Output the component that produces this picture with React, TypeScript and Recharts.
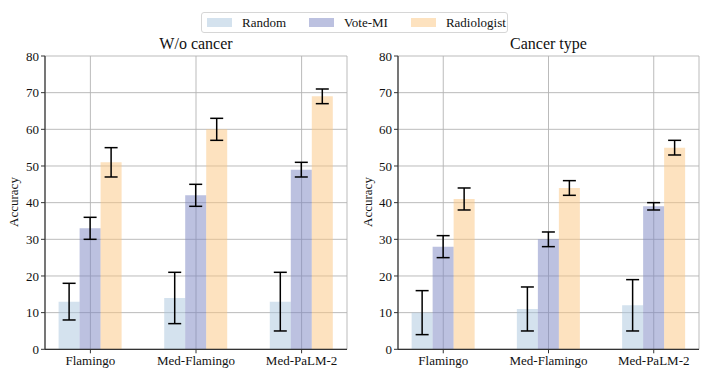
import React from 'react';
import { BarChart, Bar, XAxis, YAxis, CartesianGrid, ErrorBar } from 'recharts';

const categories = ['Flamingo', 'Med-Flamingo', 'Med-PaLM-2'];
const seriesNames = ['Random', 'Vote-MI', 'Radiologist'];
const seriesColors = ['#a9c5dd', '#7983c1', '#fbc57f'];
const yTicks = [0, 10, 20, 30, 40, 50, 60, 70, 80];

// W/o cancer
const woRandom = [13, 14, 13];
const woRandomErr = [5, 7, 8];
const woVote = [33, 42, 49];
const woVoteErr = [3, 3, 2];
const woRadio = [51, 60, 69];
const woRadioErr = [4, 3, 2];

// Cancer type
const ctRandom = [10, 11, 12];
const ctRandomErr = [6, 6, 7];
const ctVote = [28, 30, 39];
const ctVoteErr = [3, 2, 1];
const ctRadio = [41, 44, 55];
const ctRadioErr = [3, 2, 2];

const buildRows = (vals: number[][], errs: number[][]) =>
  categories.map((c, i) => {
    const row: any = { idx: i, name: c };
    seriesNames.forEach((s, k) => {
      row['s' + k] = vals[k][i];
      row['e' + k] = errs[k][i];
    });
    return row;
  });

const woData = buildRows([woRandom, woVote, woRadio], [woRandomErr, woVoteErr, woRadioErr]);
const ctData = buildRows([ctRandom, ctVote, ctRadio], [ctRandomErr, ctVoteErr, ctRadioErr]);
const xTicks = categories.map((_, i) => i);

const FONT = 'Liberation Serif, serif';
const SPINE = '#333';

function Panel({ data, title, left, yw }: { data: any[]; title: string; left: number; yw: number }) {
  const W = 351;
  const H = 372;
  const top = 56;
  const rightM = left === 0 ? 4 : 3;
  const plotW = W - yw - rightM;
  return (
    <div style={{ position: 'absolute', left, top: 0, width: W, height: H }}>
      <div
        style={{
          position: 'absolute',
          left: yw,
          width: plotW,
          top: 35,
          textAlign: 'center',
          fontSize: 16,
          color: '#111',
          lineHeight: '18px',
        }}
      >
        {title}
      </div>
      <div
        style={{
          position: 'absolute',
          left: left === 0 ? 14 : 17,
          top: 202,
          transform: 'translate(-50%, -50%) rotate(-90deg)',
          fontSize: 13,
          color: '#111',
          whiteSpace: 'nowrap',
        }}
      >
        Accuracy
      </div>
      <BarChart
        width={W}
        height={H}
        data={data}
        margin={{ top, right: rightM, bottom: 0, left: 0 }}
        barGap={0}
        barSize={21}
        style={{ fontFamily: FONT }}
      >
        <CartesianGrid xAxisId="b" yAxisId="l" stroke="#b3b3b3" strokeWidth={0.9} />
        <XAxis
          xAxisId="b"
          dataKey="idx"
          type="number"
          domain={[-0.43, 2.43]}
          ticks={xTicks}
          tickFormatter={(v: number) => categories[v]}
          height={22.7}
          tick={{ fontFamily: FONT, fontSize: 13, fill: '#111' }}
          tickLine={{ stroke: SPINE }}
          tickSize={4}
          axisLine={{ stroke: SPINE, strokeWidth: 1.2 }}
          interval={0}
        />
        <XAxis
          xAxisId="t"
          dataKey="idx"
          type="number"
          domain={[-0.43, 2.43]}
          orientation="top"
          height={0}
          tick={false}
          tickLine={false}
          axisLine={{ stroke: SPINE, strokeWidth: 1.2 }}
        />
        <YAxis
          yAxisId="l"
          width={yw}
          domain={[0, 80]}
          ticks={yTicks}
          interval={0}
          tick={{ fontFamily: FONT, fontSize: 13, fill: '#111' }}
          tickLine={{ stroke: SPINE }}
          tickSize={4}
          axisLine={{ stroke: SPINE, strokeWidth: 1.2 }}
        />
        <YAxis
          yAxisId="r"
          orientation="right"
          width={0}
          domain={[0, 80]}
          tick={false}
          tickLine={false}
          axisLine={{ stroke: SPINE, strokeWidth: 1.2 }}
        />
        {seriesNames.map((s, k) => (
          <Bar
            key={s}
            xAxisId="b"
            yAxisId="l"
            dataKey={'s' + k}
            name={s}
            fill={seriesColors[k]}
            fillOpacity={0.5}
            isAnimationActive={false}
          >
            <ErrorBar dataKey={'e' + k} width={6.5} stroke="#000" strokeWidth={1.5} direction="y" />
          </Bar>
        ))}
      </BarChart>
    </div>
  );
}

function LegendBox() {
  return (
    <div
      style={{
        position: 'absolute',
        left: 201,
        top: 12,
        width: 305,
        height: 19,
        border: '1px solid #d6d6d6',
        borderRadius: 3,
        background: '#fff',
        display: 'flex',
        alignItems: 'center',
        fontSize: 13,
        color: '#111',
        zIndex: 2,
      }}
    >
      {seriesNames.map((s, k) => (
        <div key={s} style={{ display: 'flex', alignItems: 'center', marginLeft: k === 0 ? 5 : 23 }}>
          <span
            style={{
              display: 'inline-block',
              width: 25,
              height: 9,
              background: seriesColors[k],
              opacity: 0.5,
              marginRight: 10,
            }}
          />
          <span>{s}</span>
        </div>
      ))}
    </div>
  );
}

export default function App() {
  return (
    <div
      style={{
        position: 'absolute',
        left: 0,
        top: 0,
        width: 702,
        height: 372,
        background: '#fff',
        fontFamily: FONT,
      }}
    >
      <Panel data={woData} title="W/o cancer" left={0} yw={45} />
      <Panel data={ctData} title="Cancer type" left={351} yw={47} />
      <LegendBox />
    </div>
  );
}
